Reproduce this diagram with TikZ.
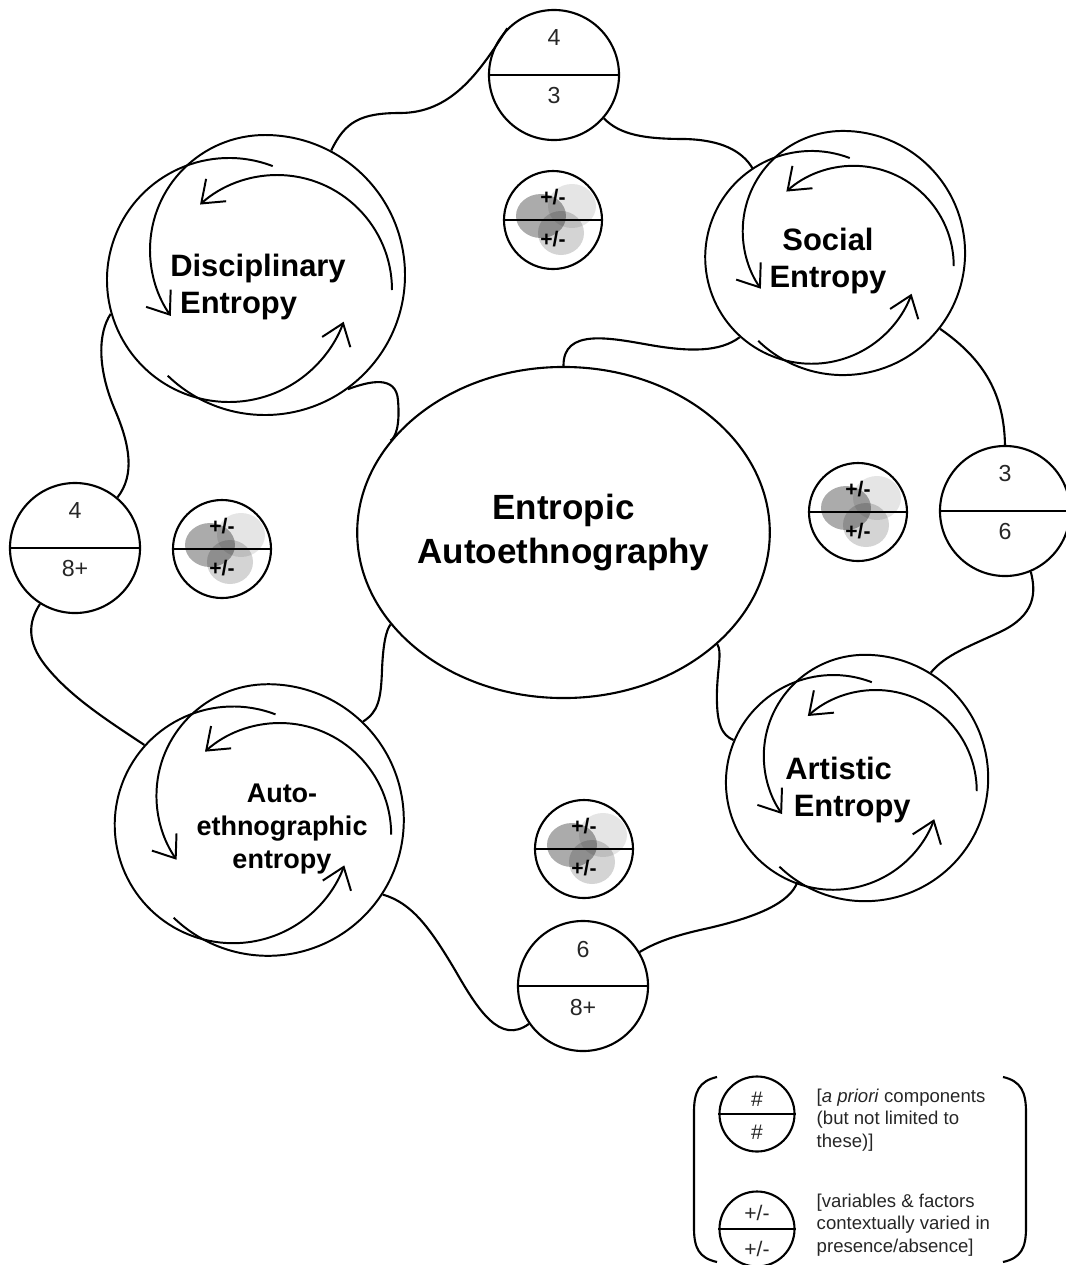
\documentclass[tikz,border=0pt]{standalone}
\usepackage{fontspec}
\setmainfont{Liberation Sans}
\usetikzlibrary{shapes.geometric,arrows.meta}

\begin{document}
\begin{tikzpicture}[x=0.025cm, y=-0.025cm, line width=1.5pt,
    hub/.style={circle, inner sep=0pt},
    cyc/.style={line width=1.4pt, -{Straight Barb[length=0.5cm, width=0.75cm]}},
    split/.style={draw, circle, minimum size=3.25cm, inner sep=0pt},
    var/.style={draw, circle, minimum size=2.45cm, inner sep=0pt},
    key/.style={draw, circle, minimum size=1.875cm, inner sep=0pt},
    num/.style={font=\fontsize{16.5pt}{19pt}\selectfont, text=black!85},
    pm/.style={font=\fontsize{15pt}{18pt}\selectfont\bfseries},
    keynum/.style={font=\fontsize{15pt}{18pt}\selectfont, text=black!85},
    keytext/.style={font=\fontsize{13.2pt}{16pt}\selectfont, text=black!85, align=left, anchor=west},
    title/.style={font=\fontsize{22pt}{26.7pt}\selectfont\bfseries}]
    \useasboundingbox (0,0) rectangle (1066,1265);

    % Entropy cycles
    \foreach \n/\pos/\sc in {disc/{265,275}/1, soc/{843,253}/0.872, art/{865,778}/0.88, auto/{268,820}/0.97}{
        \begin{scope}[shift={(\pos)}, scale=\sc, yscale=-1]
            \node[hub, minimum size=\sc*7cm] (\n) at (0,0) {};
            \node[hub, minimum size=\sc*6.1cm] (\n-a) at (-36,-5) {};
            \draw[cyc] (-36,-5) ++(69:122) arc[start angle=69, end angle=340, radius=122];
            \draw[cyc] (226:140) arc[start angle=226, end angle=450, radius=140]
                arc[start angle=90, end angle=215, radius=115];
            \draw[cyc] (12,-15) ++(0:115) arc[start angle=0, end angle=132, radius=115];
        \end{scope}
    }
    \node[title, align=left] (disc-t) at (258,287) {Disciplinary\\\hspace{7pt}Entropy};
    \node[title, align=center] (soc-t) at (828,261) {Social\\Entropy};
    \node[title, align=left] (art-t) at (848,790) {Artistic\\\hspace{6pt}Entropy};
    \node[font=\fontsize{19.2pt}{23.5pt}\selectfont\bfseries, align=center] (auto-t) at (282,829) {Auto-\\ethnographic\\entropy};

    % Centre
    \node[draw, ellipse, minimum width=9.425cm, minimum height=8.275cm, inner sep=0pt, align=center,
        font=\fontsize{24.9pt}{30.6pt}\selectfont\bfseries] (entr) at (563.5,532.5) {Entropic\\Autoethnography};

    % a priori components
    \foreach \n/\pos/\up/\lo in {ts/{554,75}/4/3, rs/{1005,511}/3/6, bs/{583,986}/6/8+, ls/{75,548}/4/8+}{
        \node[split] (\n) at (\pos) {};
        \draw (\n.west) -- (\n.east);
        \path (\n) ++(0,-37) node[num] (\n-up) {\up} ++(0,58) node[num] (\n-lo) {\lo};
    }

    % variables & factors
    \foreach \n/\pos in {tv/{553,220}, lv/{222,549}, rv/{858,512}, bv/{584,849}}{
        \fill[black, opacity=0.33] (\pos) ++(-12,-4) ellipse[x radius=25, y radius=22];
        \fill[black, opacity=0.1] (\pos) ++(19,-14) ellipse[x radius=24, y radius=22];
        \fill[black, opacity=0.17] (\pos) ++(8,13) ellipse[x radius=23, y radius=22];
        \node[var] (\n) at (\pos) {};
        \draw (\n.west) -- (\n.east);
        \path (\n) ++(0,-23) node[pm] (\n-up) {+/-} ++(0,42) node[pm] (\n-lo) {+/-};
    }

    % outer ring
    \draw (disc.62) .. controls (345,122) and (360,113) .. (400,113) .. controls (450,113) and (478,75) .. (ts.135);
    \draw (ts.319) .. controls (620,135) and (645,139) .. (685,139) .. controls (720,140) and (742,150) .. (soc.137);
    \draw (soc.322) .. controls (985,360) and (1004,395) .. (rs.north);
    \draw (rs.293) .. controls (1036,592) and (1036,615) .. (1000,632) .. controls (970,646) and (945,655) .. (art.58);
    \draw (art.237) .. controls (790,902) and (760,917) .. (700,930) .. controls (670,937) and (655,943) .. (bs.31);
    \draw (auto.327) .. controls (412,903) and (430,928) .. (455,970) .. controls (478,1010) and (500,1045) .. (bs.215);
    \draw (auto-a.138) .. controls (110,722) and (70,697) .. (45,665) .. controls (27,642) and (28,622) .. (ls.238);
    \draw (ls.50) .. controls (135,475) and (130,445) .. (115,410) .. controls (97,368) and (98,333) .. (disc-a.196);

    % spokes to the centre
    \draw (disc.306) .. controls (370,381) and (396,375) .. (398,400) .. controls (400,425) and (396,437) .. (entr.152);
    \draw (soc-a.228) .. controls (720,352) and (690,352) .. (650,345) .. controls (610,338) and (563,328) .. (entr.north);
    \draw (entr.208) .. controls (386,630) and (383,645) .. (382,670) .. controls (381,700) and (378,712) .. (auto.46);
    \draw (entr.324) .. controls (722,652) and (718,665) .. (717,690) .. controls (716,725) and (722,735) .. (art-a.157);

    % Legend
    \draw (717,1077) .. controls (699,1081) and (694,1092) .. (694,1112) -- (694,1228) .. controls (694,1248) and (699,1258) .. (717,1262);
    \draw (1003,1077) .. controls (1021,1081) and (1026,1092) .. (1026,1112) -- (1026,1228) .. controls (1026,1248) and (1021,1258) .. (1003,1262);
    \node[key] (key1) at (757,1114) {};
    \draw (key1.west) -- (key1.east);
    \path (key1) ++(0,-15) node[keynum] (key1-up) {\#} ++(0,33) node[keynum] (key1-lo) {\#};
    \node[key] (key2) at (757,1229) {};
    \draw (key2.west) -- (key2.east);
    \path (key2) ++(0,-16) node[keynum] (key2-up) {+/-} ++(0,36) node[keynum] (key2-lo) {+/-};
    \node[keytext] (key1-t) at (811,1120) {[\textit{a priori} components\\(but not limited to\\these)]};
    \node[keytext] (key2-t) at (811,1225) {[variables \& factors\\contextually varied in\\presence/absence]};
\end{tikzpicture}
\end{document}
